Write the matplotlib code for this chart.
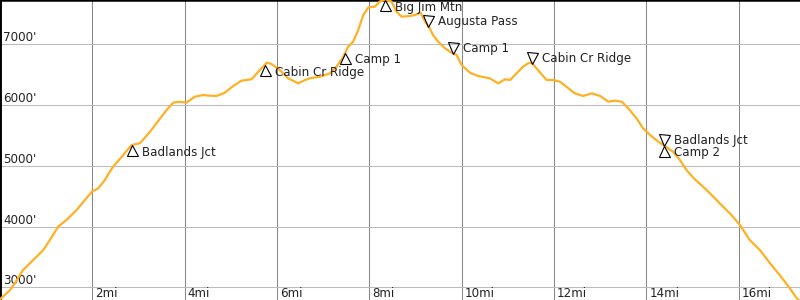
import numpy as np
import matplotlib
matplotlib.use('Agg')
import matplotlib.pyplot as plt
import matplotlib.transforms as mtransforms

# ── DATA ──────────────────────────────────────────────────────────────

# trail profile: distance (mi) / elevation (ft)
dist_mi = [0.00, 0.22, 0.32, 0.50, 0.72, 0.94, 1.08, 1.26, 1.44, 1.66,
           1.84, 1.99, 2.13, 2.27, 2.38, 2.45, 2.67, 2.85, 3.03, 3.25,
           3.47, 3.61, 3.75, 3.90, 4.04, 4.22, 4.40, 4.55, 4.69, 4.87,
           5.05, 5.23, 5.45, 5.63, 5.78, 5.88, 6.06, 6.24, 6.46, 6.61,
           6.71, 6.93, 7.15, 7.29, 7.44, 7.54, 7.65, 7.76, 7.87, 7.98,
           8.12, 8.23, 8.33, 8.48, 8.59, 8.70, 8.88, 8.99, 9.11, 9.21,
           9.31, 9.38, 9.49, 9.64, 9.78, 9.89, 10.00, 10.18, 10.36, 10.61,
           10.79, 10.94, 11.05, 11.19, 11.33, 11.44, 11.52, 11.62, 11.84, 11.98,
           12.13, 12.27, 12.45, 12.63, 12.82, 13.00, 13.18, 13.32, 13.47, 13.61,
           13.79, 13.93, 14.08, 14.26, 14.44, 14.58, 14.73, 14.87, 15.05, 15.23,
           15.38, 15.59, 15.81, 16.03, 16.24, 16.46, 16.68, 16.89, 17.11, 17.26,
           17.35]
elev_ft = [2803, 2956, 3066, 3285, 3449, 3614, 3779, 3998, 4108, 4273,
           4437, 4574, 4630, 4766, 4903, 4985, 5178, 5342, 5370, 5561,
           5782, 5918, 6039, 6055, 6039, 6137, 6165, 6154, 6149, 6203,
           6313, 6401, 6424, 6577, 6697, 6676, 6577, 6440, 6358, 6412,
           6440, 6467, 6522, 6631, 6796, 6960, 7043, 7235, 7482, 7609,
           7619, 7705, 7730, 7705, 7536, 7454, 7466, 7482, 7520, 7372,
           7263, 7153, 7043, 6934, 6862, 6824, 6659, 6532, 6478, 6440,
           6358, 6424, 6412, 6522, 6631, 6687, 6697, 6605, 6412, 6412,
           6384, 6302, 6193, 6149, 6193, 6149, 6055, 6072, 6055, 5946,
           5782, 5617, 5507, 5397, 5305, 5232, 5095, 4931, 4778, 4656,
           4547, 4383, 4218, 4025, 3779, 3614, 3395, 3202, 2984, 2819,
           2760]

# waypoints
wp_names = ["Badlands Jct", "Cabin Cr Ridge", "Camp 1", "Big Jim Mtn",
            "Augusta Pass", "Camp 1", "Cabin Cr Ridge", "Badlands Jct", "Camp 2"]
wp_mi    = [2.87, 5.73, 7.48, 8.33, 9.28, 9.82, 11.53, 14.38, 14.38]
wp_up    = [True, True, True, True, False, False, False, False, True]

mile_ticks = [2, 4, 6, 8, 10, 12, 14, 16]
elev_ticks = [3000, 4000, 5000, 6000, 7000]

X_MAX  = 17.33
Y_MIN  = 2791
Y_MAX  = 7729
ORANGE = '#FFB024'

# ── PLOT ──────────────────────────────────────────────────────────────

fig = plt.figure(figsize=(8, 3), dpi=100)
ax = fig.add_axes([0, 0, 1, 1])
ax.set_xlim(0, X_MAX)
ax.set_ylim(Y_MIN, Y_MAX)
ax.set_xticks([])
ax.set_yticks([])

for s in ['right', 'bottom']:
    ax.spines[s].set_visible(False)
ax.spines['left'].set_linewidth(2.8)
ax.spines['top'].set_linewidth(1.8)

for m in mile_ticks:
    ax.axvline(m, color='#888888', lw=0.75, zorder=1)
    ax.annotate(f"{m}mi", xy=(m, 0),
                xycoords=ax.get_xaxis_transform(),
                xytext=(3, 3.3), textcoords='offset pixels',
                ha='left', va='baseline', fontsize=8.6, color='#222222')
for e in elev_ticks:
    ax.axhline(e, color='#bbbbbb', lw=0.75, zorder=1)
    ax.annotate(f"{e}'", xy=(0, e),
                xycoords=ax.get_yaxis_transform(),
                xytext=(3, 3), textcoords='offset pixels',
                ha='left', va='baseline', fontsize=8.6, color='#222222')

ax.plot(dist_mi, elev_ft, color=ORANGE, lw=1.6, zorder=3,
        solid_joinstyle='round')

# waypoint markers sit with their tip on the profile
wp_elev = np.interp(wp_mi, dist_mi, elev_ft)
px = 72.0 / fig.dpi
for name, x, y, up in zip(wp_names, wp_mi, wp_elev, wp_up):
    dy = -5.3 if up else 5.3
    tr = ax.transData + mtransforms.ScaledTranslation(
        0, dy / fig.dpi, fig.dpi_scale_trans)
    ax.plot([x], [y], marker='^' if up else 'v', ms=11 * px,
            mfc='none', mec='black', mew=0.8, transform=tr,
            zorder=4, clip_on=False)
    ax.annotate(name, xy=(x, y), xytext=(10, -10.7 if up else 1.5),
                textcoords='offset pixels', ha='left', va='baseline',
                fontsize=8.6, color='#222222', zorder=5)

fig.savefig('out.png', dpi=100, facecolor='white')
